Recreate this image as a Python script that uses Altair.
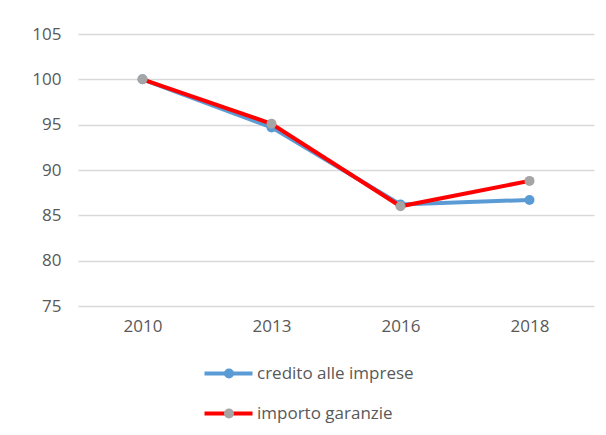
import altair as alt
import pandas as pd

years = ["2010", "2013", "2016", "2018"]
credito = [100, 94.7, 86.2, 86.7]
importo = [100, 95.1, 86.0, 88.8]
series = ["credito alle imprese", "importo garanzie"]
marker_keys = ["marcatore credito", "marcatore importo"]
line_colors = ["#5B9BD5", "#FF0000"]
marker_colors = ["#5B9BD5", "#A5A5A5"]
y_ticks = [75, 80, 85, 90, 95, 100, 105]

df = pd.DataFrame({
    "anno": years * 2,
    "valore": credito + importo,
    "serie": [series[0]] * len(years) + [series[1]] * len(years),
    "marcatore": [marker_keys[0]] * len(years) + [marker_keys[1]] * len(years),
})

TXT = "#595959"
FONT = "Open Sans"
FS = 17

x = alt.X("anno:O", title=None,
          axis=alt.Axis(labelAngle=0, domain=False, ticks=False, grid=False,
                        labelColor=TXT, labelFontSize=FS, labelFont=FONT, labelPadding=12))
y = alt.Y("valore:Q", title=None,
          scale=alt.Scale(domain=[75, 105], nice=False, zero=False),
          axis=alt.Axis(values=y_ticks, domain=False, ticks=False, gridColor="#D9D9D9",
                        gridWidth=1.5, labelColor=TXT, labelFontSize=FS, labelFont=FONT,
                        labelPadding=17))

stroke = alt.Stroke("serie:N", scale=alt.Scale(domain=series, range=line_colors),
                    legend=alt.Legend(title=None, orient="none", legendX=142, legendY=331,
                                      direction="vertical", symbolType="M-4,0H4",
                                      symbolSize=144, symbolStrokeWidth=4,
                                      labelFontSize=FS, labelFont=FONT, labelColor=TXT,
                                      labelOffset=20, rowPadding=22, padding=0))
fill = alt.Fill("marcatore:N", scale=alt.Scale(domain=marker_keys, range=marker_colors),
                legend=alt.Legend(title=None, orient="none", legendX=142.5, legendY=331,
                                  direction="vertical", symbolType="circle",
                                  symbolSize=100, symbolStrokeWidth=0, symbolOpacity=1,
                                  labelFontSize=FS, labelFont=FONT, labelExpr="''",
                                  labelOffset=20, rowPadding=22, padding=0))

layers = []
for s in series:
    sub = alt.Chart(df).transform_filter(alt.datum.serie == s)
    layers.append(sub.mark_line(strokeWidth=4).encode(x=x, y=y, stroke=stroke))
    layers.append(sub.mark_circle(size=100, opacity=1).encode(x=x, y=y, fill=fill))

chart = alt.layer(*layers).properties(
    width=516, height=272,
    autosize=alt.AutoSizeParams(type="none"),
    padding={"left": 70, "top": 26, "right": 4, "bottom": 121},
).configure(font=FONT, view=alt.ViewConfig(strokeWidth=0))

chart.save("out.html", embed_options={"renderer": "svg", "actions": False})
